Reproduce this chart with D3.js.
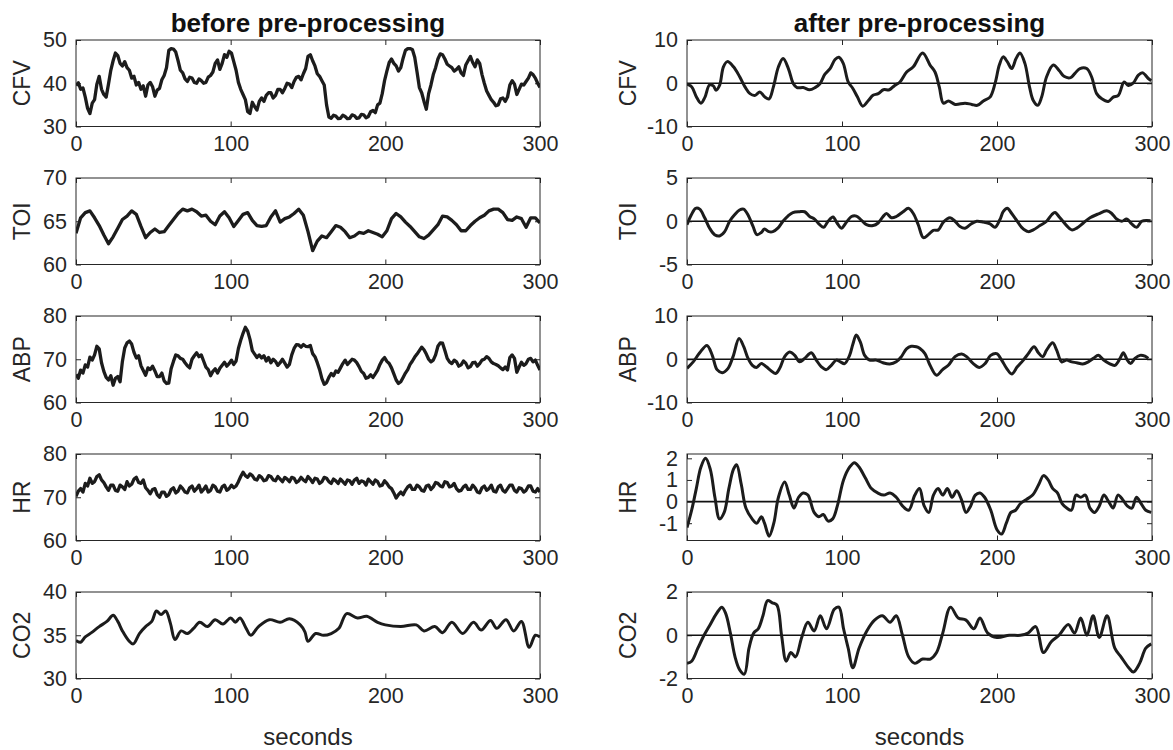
<!DOCTYPE html>
<html>
<head>
<meta charset="utf-8">
<script src="https://cdn.jsdelivr.net/npm/d3@7"></script>
<style>
  body { margin: 0; background: #fff; }
  svg { display: block; font-family: "Liberation Sans", Arial, sans-serif; }
</style>
</head>
<body>
<svg id="chart" width="1173" height="750"></svg>
<script>
// ---- data -------------------------------------------------------------
const xTicks = [0, 100, 200, 300];
const fastStep = 1.5; // s between samples of CFV, ABP and HR recordings
const slowStep = 3;   // s between samples of the TOI recording

// raw CFV (cm/s), one sample every 1.5 s from 0 to 300 s
const cfvRaw = [
  39.5, 40.1, 38.6, 38.9, 36.8, 34.2, 33.0, 35.4, 36.2, 39.8, 41.6, 38.6, 37.4, 36.8, 39.8, 43.0, 45.2, 47.0, 46.4, 44.6,
  44.0, 45.0, 43.6, 43.0, 41.2, 41.6, 39.6, 40.2, 38.6, 39.4, 37.0, 39.6, 40.2, 39.2, 37.0, 38.4, 38.8, 40.8, 41.8, 43.6,
  47.6, 48.0, 47.9, 47.2, 45.2, 43.0, 42.4, 41.0, 40.4, 41.4, 41.2, 40.2, 40.0, 41.0, 40.6, 40.0, 40.2, 41.4, 41.8, 42.6,
  44.6, 45.4, 43.2, 44.6, 46.6, 46.0, 47.4, 47.0, 45.0, 43.0, 40.2, 38.6, 37.4, 36.2, 33.4, 33.0, 35.6, 34.6, 33.8, 35.8,
  36.6, 35.8, 37.2, 37.8, 37.8, 36.6, 37.2, 38.6, 38.6, 37.8, 38.8, 40.0, 39.8, 39.0, 40.4, 41.4, 41.6, 40.8, 42.2, 43.4,
  46.2, 46.6, 45.2, 44.0, 42.2, 41.6, 40.6, 39.6, 35.0, 32.2, 31.9, 32.6, 32.4, 31.8, 31.9, 32.6, 32.3, 31.8, 31.9, 32.7,
  32.5, 31.9, 32.0, 32.8, 32.7, 32.0, 32.3, 33.4, 33.7, 33.2, 35.0, 35.4, 37.6, 40.6, 42.8, 44.8, 45.6, 44.6, 44.0, 42.8,
  43.6, 45.8, 47.6, 48.0, 48.0, 47.8, 46.0, 42.6, 39.0, 37.8, 35.8, 34.0, 37.6, 39.6, 42.0, 43.6, 45.6, 46.8, 46.6, 45.6,
  44.4, 44.0, 43.6, 42.8, 43.2, 43.8, 42.4, 41.8, 44.2, 45.2, 46.2, 44.8, 43.8, 45.4, 44.6, 42.0, 40.0, 38.2, 37.2, 36.2,
  35.6, 34.8, 35.0, 36.4, 36.6, 35.8, 36.8, 39.6, 40.6, 39.8, 37.4, 38.6, 39.8, 39.6, 40.4, 41.2, 42.4, 42.0, 41.2, 40.0,
  39.0
];
// raw TOI (%), one sample every 3 s
const toiRaw = [
  63.6, 65.4, 66.0, 66.2, 65.4, 64.5, 63.4, 62.4, 63.2, 64.2,
  65.2, 65.6, 66.2, 65.8, 64.4, 63.1, 63.7, 64.1, 63.7, 63.8,
  64.5, 65.2, 65.9, 66.4, 66.2, 66.4, 66.1, 65.6, 65.7, 65.0,
  64.6, 65.6, 66.1, 65.4, 64.4, 65.1, 65.8, 66.0, 65.1, 64.5,
  64.4, 64.5, 65.5, 66.2, 64.9, 65.3, 65.5, 65.9, 66.4, 65.7,
  63.8, 61.6, 62.7, 63.3, 63.1, 63.8, 64.5, 64.3, 63.8, 63.1,
  63.3, 63.7, 63.6, 63.9, 63.7, 63.5, 63.2, 63.9, 65.3, 65.9,
  65.5, 64.9, 64.4, 63.8, 63.2, 63.0, 63.4, 64.0, 64.6, 65.6,
  65.5, 65.1, 64.6, 63.9, 63.9, 64.5, 65.0, 65.4, 65.7, 66.2,
  66.4, 66.4, 66.0, 65.2, 65.1, 65.5, 65.3, 64.3, 65.4, 65.4,
  64.8
];
// raw ABP (mmHg), one sample every 1.5 s
const abpRaw = [
  66.5, 65.6, 67.5, 66.8, 68.7, 68.2, 70.5, 69.8, 71.0, 73.0, 72.4, 69.2, 67.2, 65.8, 65.2, 66.2, 64.0, 65.6, 66.0, 64.8,
  69.5, 72.6, 73.8, 74.2, 73.5, 71.6, 70.3, 70.8, 68.5, 67.4, 66.3, 68.0, 67.6, 68.4, 67.3, 66.0, 66.0, 66.8, 65.0, 64.4,
  64.5, 67.8, 69.5, 71.0, 70.8, 70.2, 70.0, 69.2, 68.5, 68.0, 70.0, 70.8, 71.5, 70.6, 71.0, 69.6, 68.2, 67.6, 66.2, 67.2,
  67.8, 66.8, 67.9, 68.6, 69.3, 68.4, 69.0, 69.8, 68.8, 69.6, 72.5, 74.4, 76.0, 77.4, 76.5, 74.6, 72.0, 71.2, 70.4, 71.0,
  70.3, 70.8, 69.6, 70.4, 69.2, 70.0, 69.5, 68.6, 69.2, 70.0, 69.1, 68.2, 68.8, 71.0, 72.5, 73.4, 73.3, 72.8, 73.4, 73.0,
  72.9, 73.2, 71.3, 70.6, 69.2, 67.6, 65.5, 64.2, 64.6, 65.8, 66.7, 66.2, 67.3, 67.0, 68.0, 69.0, 69.8, 68.8, 69.4, 70.0,
  69.8, 69.2, 68.3, 67.2, 66.7, 65.6, 65.8, 66.4, 65.8, 66.6, 67.5, 68.8, 69.8, 70.4, 69.5, 69.0, 68.0, 66.6, 65.2, 64.4,
  64.8, 65.8, 66.8, 67.6, 68.8, 69.6, 70.5, 71.2, 72.0, 72.8, 72.2, 71.2, 70.0, 69.4, 69.8, 71.0, 73.0, 73.8, 73.7, 72.0,
  70.2, 69.4, 69.0, 69.8, 69.4, 68.4, 68.7, 69.6, 69.1, 68.0, 68.3, 69.2, 69.3, 68.4, 69.0, 69.8, 70.0, 70.6, 70.2, 69.4,
  69.0, 68.8, 68.5, 68.0, 67.6, 68.2, 67.5, 70.4, 71.0, 70.2, 67.0, 68.2, 69.3, 68.6, 69.0, 70.0, 70.2, 69.4, 69.8, 68.6,
  67.5
];
// raw HR (bpm), one sample every 1.5 s
const hrRaw = [
  70.2, 71.4, 72.0, 71.2, 73.2, 72.6, 74.4, 73.2, 73.6, 74.8, 75.2, 74.0, 73.4, 72.4, 71.6, 72.8, 72.8, 71.6, 71.4, 72.8,
  72.4, 71.8, 73.6, 72.6, 73.0, 74.2, 74.6, 73.4, 73.2, 74.0, 72.2, 71.6, 70.8, 71.8, 72.0, 70.6, 70.0, 71.2, 71.2, 70.2,
  70.6, 71.8, 72.2, 71.0, 71.4, 72.6, 72.0, 71.2, 71.0, 72.2, 72.6, 71.4, 72.0, 72.8, 71.2, 71.8, 72.6, 71.2, 71.6, 72.8,
  72.4, 71.4, 71.2, 72.4, 72.8, 71.6, 72.0, 72.8, 72.2, 72.6, 73.6, 74.8, 75.8, 75.0, 74.6, 75.4, 75.0, 74.2, 74.0, 75.0,
  74.6, 73.8, 74.0, 75.0, 74.8, 74.0, 73.8, 74.8, 74.2, 73.6, 74.6, 74.2, 73.6, 74.6, 74.4, 73.4, 73.8, 74.6, 74.0, 73.6,
  74.8, 74.2, 73.4, 74.4, 74.2, 73.2, 73.6, 74.6, 74.4, 73.6, 73.2, 74.2, 73.8, 73.2, 74.2, 73.6, 73.0, 74.0, 73.8, 73.0,
  74.0, 74.4, 73.2, 73.8, 73.6, 72.8, 74.2, 73.6, 73.0, 74.0, 73.6, 72.6, 72.8, 73.8, 73.2, 72.4, 72.0, 71.0, 69.8, 70.6,
  71.2, 70.6, 71.6, 72.4, 72.8, 71.8, 71.8, 72.8, 72.4, 71.6, 71.4, 72.6, 72.8, 71.8, 72.4, 73.4, 73.2, 72.6, 72.4, 73.6,
  73.4, 72.4, 72.6, 73.2, 72.0, 71.4, 71.6, 72.4, 72.8, 71.8, 71.8, 72.8, 72.2, 71.2, 71.0, 72.2, 72.6, 71.6, 72.0, 72.8,
  71.4, 71.2, 72.4, 72.8, 71.6, 71.2, 72.0, 72.8, 72.8, 71.6, 71.2, 72.2, 72.0, 71.2, 71.6, 72.6, 72.6, 71.4, 71.2, 72.0,
  71.2
];
// end-tidal CO2 is smooth: [seconds, mmHg]
const co2Raw = [
  [0, 34.4], [3, 34.2], [6, 34.8], [10, 35.3], [15, 36.0], [20, 36.6], [24, 37.3],
  [27, 36.6], [30, 35.5], [34, 34.4], [37, 34.0], [41, 35.2], [45, 36.0], [49, 36.6],
  [52, 37.8], [55, 37.4], [58, 37.8], [61, 36.4], [64, 34.5], [68, 35.5], [72, 35.2],
  [76, 35.8], [80, 36.5], [85, 36.0], [90, 36.8], [95, 36.3], [100, 37.0], [103, 36.5],
  [106, 37.0], [110, 35.8], [113, 35.0], [118, 36.0], [125, 36.8], [132, 36.5],
  [138, 36.9], [145, 36.2], [148, 35.4], [150, 34.3], [155, 35.2], [160, 35.0],
  [165, 35.2], [170, 35.8], [175, 37.5], [182, 37.0], [188, 37.2], [195, 36.5],
  [200, 36.2], [210, 36.0], [220, 36.2], [225, 35.5], [232, 36.0], [237, 35.3],
  [243, 36.5], [250, 35.2], [257, 36.5], [262, 35.6], [268, 36.7], [272, 35.8],
  [278, 36.8], [283, 35.5], [288, 36.6], [293, 33.6], [297, 35.0], [300, 34.8]
];

// band-pass filtered signals: [seconds, value]
const cfvFilt = [
  [0, -0.2], [3, -0.8], [6, -3.1], [9, -4.6], [11.6, -3.2], [14.5, -0.4], [17, -0.6],
  [18.7, -1.6], [21, -0.5], [23.5, 3.8], [26, 5.0], [30, 3.8], [34, 1.5], [37.5, -0.9],
  [40.6, -2.4], [44, -2.8], [47, -2.0], [50.3, -3.2], [53, -3.6], [55.7, -0.9], [59, 3.8],
  [62, 5.7], [65.4, 3.4], [68.6, -0.1], [71, -1.0], [75, -1.0], [79, -1.5], [82.6, -1.0],
  [85.8, -0.1], [89, 2.1], [92.3, 3.4], [95.5, 5.5], [98, 6.0], [100.8, 4.6], [104, 0.3],
  [107, -1.2], [110, -3.2], [113.4, -5.3], [117, -4.0], [120, -2.8], [123.4, -2.4],
  [126.7, -1.5], [130.5, -1.5], [134, -0.5], [137.4, 0.3], [141.7, 2.6], [146, 3.8],
  [152, 7.0], [156.8, 4.2], [160, 2.6], [162.8, -0.9], [165.4, -4.6], [168.6, -4.1],
  [173, -4.9], [179.4, -4.6], [183.7, -4.9], [187.3, -5.1], [191.2, -4.1], [195.5, -3.2],
  [198.7, -0.1], [201.5, 4.2], [204, 6.1], [206.6, 5.0], [209.5, 3.4], [212.3, 5.7],
  [214.8, 7.0], [218, 4.6], [221, -0.9], [223.4, -4.0], [226.3, -5.1], [228.8, -3.2],
  [232, 1.5], [236.3, 4.2], [240.2, 2.9], [243.2, 1.6], [247.5, 1.3], [250.3, 2.3],
  [253.5, 3.4], [257.9, 3.4], [261, 1.5], [264.3, -2.4], [267.6, -3.6], [271.8, -4.2],
  [275, -3.2], [278.3, -2.8], [282, 0.3], [284.7, -0.5], [288, 0.1], [291.2, 1.9],
  [294, 2.4], [297.6, 1.1], [299.5, 0.6]
];
const toiFilt = [
  [0, -0.4], [2.8, 0.75], [5.6, 1.5], [8.2, 1.4], [11.4, 0.4], [14.6, -0.8], [17.8, -1.55],
  [21, -1.7], [24.3, -1.2], [27.5, 0.0], [30.7, 0.75], [33.9, 1.3], [36.5, 1.4], [39.3, 0.75],
  [42.6, -0.6], [45.1, -1.55], [47.9, -1.3], [50, -0.9], [52.8, -1.2], [55.4, -1.2],
  [58.6, -0.8], [61.9, 0.0], [65.1, 0.6], [68.3, 1.0], [72.6, 1.1], [75.9, 1.1], [79.1, 0.55],
  [82.3, 0.25], [85.6, -0.4], [88.2, -0.7], [91, 0.0], [94.2, 0.5], [96.8, -0.2], [99.6, -0.8],
  [102.9, -0.1], [106.1, 0.55], [109.3, 0.6], [112.6, 0.1], [115.8, -0.4], [120.1, -0.5],
  [123.3, -0.2], [126.5, 0.55], [128.7, 0.9], [131.9, 0.4], [135.1, 0.55], [139.4, 1.1],
  [142.8, 1.5], [146, 0.9], [149.2, -0.4], [152.5, -1.9], [155.7, -1.55], [158.9, -1.05],
  [162.2, -1.0], [165.4, -0.1], [169.7, 0.4], [172.9, 0.0], [176.1, -0.6], [179.4, -0.8],
  [182.6, -0.4], [186.9, 0.0], [191.2, -0.1], [195.5, -0.3], [198.7, -0.7], [201.9, 0.2],
  [204, 1.1], [206.6, 1.5], [209.5, 0.9], [212.7, 0.1], [215.9, -0.7], [220.2, -1.2],
  [223.4, -1.0], [227.7, -0.5], [232, 0.0], [235.3, 0.75], [237.4, 1.0], [240.6, 0.4],
  [244.9, -0.5], [248.2, -1.0], [251.4, -0.8], [255.7, -0.2], [260, 0.4], [265.4, 0.85],
  [270.8, 1.2], [274, 0.9], [277.2, 0.25], [280.5, 0.0], [283.7, 0.25], [286.9, -0.3],
  [290.1, -0.7], [293.4, 0.0], [296.6, 0.1], [299, 0.05]
];
const abpFilt = [
  [0, -2.1], [4, -0.6], [8.2, 1.5], [12.9, 3.2], [16.3, 0.9], [19.4, -2.4], [22.8, -3.1],
  [26.5, -2.1], [29.7, 0.6], [33.6, 4.8], [36.6, 2.9], [39.4, 0.2], [42.2, -1.4], [44.8, -1.9],
  [48, -1.0], [51.2, -1.75], [54.4, -2.7], [57.2, -3.3], [59.8, -2.1], [63, 0.6], [66.2, 1.7],
  [69.5, 0.9], [72.7, -0.6], [75.9, 0.2], [80.2, 1.5], [83.4, -0.2], [86.7, -1.75],
  [89.9, -2.4], [93.1, -1.4], [96.3, -0.2], [98.9, -0.6], [101.7, -1.0], [104.9, 0.9],
  [107.1, 3.6], [109.2, 5.6], [111.8, 4.0], [114.6, 0.9], [117.8, -0.2], [122.1, -0.2],
  [126.4, -0.8], [130.8, -1.1], [135, -0.6], [138.3, 0.6], [141.6, 2.4], [144.7, 3.0],
  [148, 2.9], [150.3, 2.5], [153.5, 1.3], [156.8, -1.4], [161, -3.7], [164.9, -2.4],
  [168.6, -1.4], [172.9, 0.6], [177.2, 1.2], [180.4, 0.6], [184.7, -1.0], [188.6, -1.9],
  [192.3, -1.0], [195.9, 0.9], [199.8, 1.3], [203, -0.2], [206.2, -2.1], [209.5, -3.4],
  [213.1, -1.75], [217, -0.2], [220.2, 1.3], [223.9, 2.9], [226.7, 1.5], [229.5, 0.6],
  [232, 2.1], [235.9, 3.8], [238.5, 2.1], [241.7, -0.6], [244.9, -0.2], [248.2, -0.6],
  [251.4, -0.8], [255.3, -1.1], [258.9, -0.6], [262.2, 0.2], [265.4, 0.9], [268.6, -0.1],
  [272.5, -1.0], [276.1, -1.4], [279.4, 0.2], [281.5, 1.5], [284.1, -0.2], [286.2, -1.0],
  [289, 0.2], [292.3, 0.9], [295.5, 0.7], [297.6, 0.2]
];
const hrFilt = [
  [0, -1.2], [3, -0.4], [6, 0.6], [9, 1.6], [12, 2.0], [15, 1.5], [18, 0.2], [21, -0.8],
  [24, -0.5], [27, 0.6], [30, 1.5], [32, 1.7], [35, 0.8], [38, -0.3], [42, -0.8], [45, -1.0],
  [48, -0.7], [50, -1.0], [53, -1.6], [56, -1.0], [59, 0.2], [63, 0.9], [66, 0.3], [69, -0.3],
  [72, 0.2], [75, 0.4], [78, 0.3], [82, -0.5], [85, -0.7], [88, -0.6], [91, -0.9], [94, -0.8],
  [97, -0.2], [101, 1.0], [105, 1.6], [108, 1.8], [111, 1.6], [115, 1.1], [119, 0.6],
  [123, 0.4], [127, 0.3], [131, 0.4], [135, 0.2], [139, -0.2], [143, -0.4], [147, 0.3],
  [150, 0.6], [153, -0.2], [156, -0.5], [159, 0.3], [162, 0.6], [165, 0.3], [168, 0.6],
  [171, 0.2], [174, 0.5], [177, 0.1], [180, -0.5], [183, -0.2], [186, 0.3], [189, 0.4],
  [192, 0.2], [196, -0.4], [200, -1.3], [203, -1.5], [206, -1.0], [209, -0.5], [212, -0.4],
  [215, -0.1], [219, 0.1], [223, 0.3], [227, 0.8], [230, 1.2], [233, 1.0], [236, 0.6],
  [239, 0.4], [242, -0.1], [245, -0.3], [248, -0.4], [251, 0.3], [254, 0.2], [257, 0.3],
  [260, -0.3], [263, -0.5], [266, -0.2], [269, 0.3], [272, 0.0], [275, -0.3], [278, 0.3],
  [281, 0.1], [284, -0.2], [287, -0.3], [290, 0.2], [293, -0.1], [296, -0.4], [299.5, -0.5]
];
const co2Filt = [
  [0, -1.3], [3, -1.2], [7, -0.6], [11, 0.0], [15, 0.5], [19, 1.0], [22.5, 1.3], [25, 1.0],
  [28, 0.1], [31, -1.0], [34, -1.6], [37, -1.8], [40, -0.6], [43, 0.1], [46, 0.3], [49, 0.9],
  [52, 1.6], [55, 1.5], [58, 1.4], [61, 0.0], [64, -1.2], [67, -0.8], [70, -1.0], [74, -0.1],
  [78, 0.6], [82, 0.2], [86, 0.9], [90, 0.3], [95, 1.2], [98, 1.3], [101, 0.3], [104, -0.6],
  [107, -1.5], [111, -0.6], [116, 0.2], [121, 0.7], [126, 0.9], [131, 0.6], [135, 0.9],
  [139, 0.0], [143, -1.0], [147, -1.3], [152, -1.1], [157, -1.1], [161, -0.8], [165, 0.1],
  [170, 1.3], [175, 0.8], [180, 0.7], [185, 0.3], [189, 0.8], [194, 0.1], [200, -0.1],
  [208, 0.0], [215, 0.0], [220, 0.1], [225, 0.4], [230, -0.8], [235, -0.3], [240, 0.0],
  [246, 0.5], [250, 0.1], [254, 0.8], [258, 0.0], [262, 0.9], [266, -0.1], [271, 0.9],
  [276, -0.6], [280, -1.0], [285, -1.5], [288, -1.7], [292, -1.3], [296, -0.6], [299.5, -0.4]
];

// ---- layout -------------------------------------------------------------
const columns = [
  { x0: 76, x1: 540, title: "before pre-processing" },
  { x0: 687, x1: 1152, title: "after pre-processing" }
];
const rowTop = 40, rowGap = 138, plotH = 86.5;
const ink = "#262626", lineInk = "#1c1c1c";

const asPairs = (vals, step) => vals.map((v, i) => [i * step, v]);

const panels = [
  { col: 0, row: 0, label: "CFV", domain: [30, 50], ticks: [30, 40, 50], data: asPairs(cfvRaw, fastStep), smooth: false },
  { col: 0, row: 1, label: "TOI", domain: [60, 70], ticks: [60, 65, 70], data: asPairs(toiRaw, slowStep), smooth: false },
  { col: 0, row: 2, label: "ABP", domain: [60, 80], ticks: [60, 70, 80], data: asPairs(abpRaw, fastStep), smooth: false },
  { col: 0, row: 3, label: "HR", domain: [60, 80], ticks: [60, 70, 80], data: asPairs(hrRaw, fastStep), smooth: false },
  { col: 0, row: 4, label: "CO2", domain: [30, 40], ticks: [30, 35, 40], data: co2Raw, smooth: true },
  { col: 1, row: 0, label: "CFV", domain: [-10, 10], ticks: [-10, 0, 10], data: cfvFilt, smooth: true, zero: true },
  { col: 1, row: 1, label: "TOI", domain: [-5, 5], ticks: [-5, 0, 5], data: toiFilt, smooth: true, zero: true },
  { col: 1, row: 2, label: "ABP", domain: [-10, 10], ticks: [-10, 0, 10], data: abpFilt, smooth: true, zero: true },
  { col: 1, row: 3, label: "HR", domain: [-1.8, 2.2], ticks: [-1, 0, 1, 2], data: hrFilt, smooth: true, zero: true },
  { col: 1, row: 4, label: "CO2", domain: [-2, 2], ticks: [-2, 0, 2], data: co2Filt, smooth: true, zero: true }
];

const svg = d3.select("#chart");
const fmt = d => String(d);

panels.forEach((p, i) => {
  const c = columns[p.col];
  const top = rowTop + p.row * rowGap;
  const w = c.x1 - c.x0;
  const x = d3.scaleLinear().domain([0, 300]).range([0, w]);
  const y = d3.scaleLinear().domain(p.domain).range([plotH, 0]);
  const g = svg.append("g").attr("transform", `translate(${c.x0},${top})`);

  g.append("clipPath").attr("id", "clip" + i)
    .append("rect").attr("width", w).attr("height", plotH);

  // inward ticks on all four sides
  const bottom = g.append("g").attr("transform", `translate(0,${plotH})`)
    .call(d3.axisBottom(x).tickValues(xTicks).tickFormat(fmt).tickSize(-5).tickPadding(9));
  const topAx = g.append("g")
    .call(d3.axisTop(x).tickValues(xTicks).tickFormat("").tickSize(-5));
  const left = g.append("g")
    .call(d3.axisLeft(y).tickValues(p.ticks).tickFormat(fmt).tickSize(-5).tickPadding(9));
  const right = g.append("g").attr("transform", `translate(${w},0)`)
    .call(d3.axisRight(y).tickValues(p.ticks).tickFormat("").tickSize(-5));
  [bottom, topAx, left, right].forEach(a => {
    a.select(".domain").remove();
    a.selectAll("line").attr("stroke", ink).attr("stroke-width", 1);
    a.selectAll("text").attr("fill", ink).style("font-size", "21.5px")
      .style("font-family", '"Liberation Sans", Arial, sans-serif');
  });

  const plot = g.append("g").attr("clip-path", `url(#clip${i})`);
  if (p.zero) {
    plot.append("line")
      .attr("x1", 0).attr("x2", w).attr("y1", y(0)).attr("y2", y(0))
      .attr("stroke", "#111").attr("stroke-width", 1.6);
  }
  const line = d3.line()
    .x(d => x(d[0])).y(d => y(d[1]))
    .curve(p.smooth ? d3.curveCatmullRom.alpha(0.5) : d3.curveLinear);
  plot.append("path").datum(p.data)
    .attr("d", line).attr("fill", "none")
    .attr("stroke", lineInk)
    .attr("stroke-width", p.smooth ? 3 : 3.3)
    .attr("stroke-linejoin", "round");

  // axes box
  g.append("rect").attr("width", w).attr("height", plotH)
    .attr("fill", "none").attr("stroke", ink).attr("stroke-width", 1);

  // y label
  const lx = p.col === 0 ? 29.5 : 636;
  svg.append("text")
    .attr("transform", `translate(${lx},${top + plotH / 2}) rotate(-90)`)
    .attr("text-anchor", "middle").attr("fill", ink)
    .style("font-size", "23px").text(p.label);
});

columns.forEach(c => {
  const cx = (c.x0 + c.x1) / 2;
  svg.append("text").attr("x", cx).attr("y", 32)
    .attr("text-anchor", "middle").attr("fill", "#111")
    .style("font-size", "26px").style("font-weight", "bold").text(c.title);
  svg.append("text").attr("x", cx).attr("y", 745)
    .attr("text-anchor", "middle").attr("fill", ink)
    .style("font-size", "24px").text("seconds");
});
</script>
</body>
</html>
